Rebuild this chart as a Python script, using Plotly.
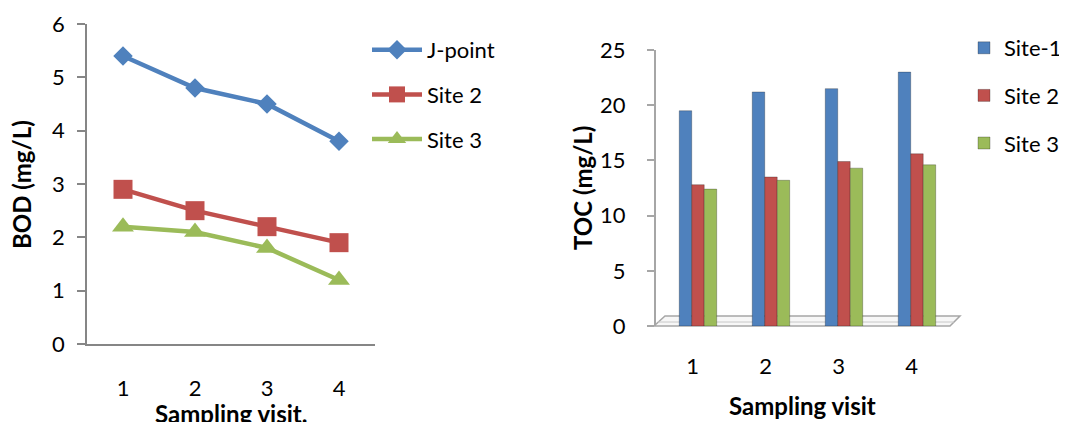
import plotly.graph_objects as go

# ---------------- data ----------------
visits = ["1", "2", "3", "4"]

bod_jpoint = [5.4, 4.8, 4.5, 3.8]
bod_site2 = [2.9, 2.5, 2.2, 1.9]
bod_site3 = [2.2, 2.1, 1.8, 1.2]

toc_site1 = [19.5, 21.2, 21.5, 23.0]
toc_site2 = [12.8, 13.5, 14.9, 15.6]
toc_site3 = [12.4, 13.2, 14.3, 14.6]

bod_ticks = [0, 1, 2, 3, 4, 5, 6]
toc_ticks = [0, 5, 10, 15, 20, 25]

# ---------------- style ----------------
# the page body has an 8px default margin, so the figure starts at (8, 8)
OFF = 8
W, H = 1067 - OFF, 422 - OFF
FONT = "Lato"
BLUE, RED, GREEN = "#4F81BD", "#C0504D", "#9BBB59"
AXIS = "#868686"


def px(x):
    return (x - OFF) / W


def py(y):
    return 1 - (y - OFF) / H


fig = go.Figure()

# ---- left: BOD line chart ----
for name, vals, col, sym, size in [
    ("J-point", bod_jpoint, BLUE, "diamond", 15),
    ("Site 2", bod_site2, RED, "square", 19),
    ("Site 3", bod_site3, GREEN, "triangle-up", 19),
]:
    fig.add_trace(go.Scatter(
        x=visits, y=vals, name=name, mode="lines+markers",
        line=dict(color=col, width=4.5),
        marker=dict(symbol=sym, size=size, color=col),
        xaxis="x", yaxis="y", legend="legend", legendgroup=name,
    ))

# ---- right: TOC column chart ----
BAR_W = 0.171
for i, (name, vals, col) in enumerate([
    ("Site-1", toc_site1, BLUE),
    ("Site 2", toc_site2, RED),
    ("Site 3", toc_site3, GREEN),
]):
    fig.add_trace(go.Bar(
        x=visits, y=vals, name=name,
        width=BAR_W, offset=-1.5 * BAR_W + 0.075 + i * BAR_W,
        marker=dict(color=col, line=dict(color="rgba(0,0,0,0.25)", width=1)),
        xaxis="x2", yaxis="y2", legend="legend2", legendgroup="b" + name,
    ))

tickfont = dict(family=FONT, size=22, color="black")

fig.update_layout(
    template="none",
    width=W, height=H, autosize=False,
    margin=dict(l=0, r=0, t=0, b=0, pad=0),
    paper_bgcolor="white", plot_bgcolor="rgba(0,0,0,0)",
    font=dict(family=FONT, size=22, color="black"),
    barmode="overlay",
    xaxis=dict(
        domain=[px(87), px(375)], range=[-0.5, 3.5], type="category",
        showgrid=False, zeroline=False, showline=True, linecolor=AXIS, linewidth=1.5,
        ticks="", tickfont=tickfont, ticklabelstandoff=24, anchor="y", automargin=False,
    ),
    yaxis=dict(
        domain=[py(344), py(24)], range=[0, 6], tickvals=bod_ticks,
        showgrid=False, zeroline=False, showline=True, linecolor=AXIS, linewidth=1.5,
        ticks="outside", ticklen=8, tickcolor=AXIS, tickwidth=1.5,
        tickfont=tickfont, ticklabelstandoff=8, anchor="x", automargin=False,
    ),
    xaxis2=dict(
        domain=[px(656), px(948)], range=[-0.5, 3.5], type="category",
        showgrid=False, zeroline=False, showline=False,
        ticks="", tickfont=tickfont, ticklabelstandoff=25, anchor="y2", automargin=False,
    ),
    yaxis2=dict(
        domain=[py(326), py(50)], range=[0, 25], tickvals=toc_ticks,
        showgrid=False, zeroline=False, showline=True, linecolor="#a6a6a6", linewidth=2,
        ticks="outside", ticklen=7, tickcolor="#a6a6a6", tickwidth=1.5,
        tickfont=tickfont, ticklabelstandoff=17, anchor="x2", automargin=False,
    ),
    legend=dict(
        x=px(367), y=py(29), xanchor="left", yanchor="top",
        bgcolor="rgba(0,0,0,0)", font=dict(family=FONT, size=22),
        itemwidth=50, tracegroupgap=13, traceorder="grouped",
    ),
    legend2=dict(
        x=1, y=py(27), xanchor="right", yanchor="top",
        bgcolor="rgba(0,0,0,0)", font=dict(family=FONT, size=22),
        itemwidth=30, tracegroupgap=16, traceorder="grouped",
    ),
    showlegend=True,
)

# 3D floor of the column chart
floor = (f"M {px(654)},{py(326)} L {px(950)},{py(326)} L {px(960)},{py(316)} "
         f"L {px(665)},{py(316)} Z")
fig.add_shape(type="path", path=floor, xref="paper", yref="paper",
              line=dict(color="#a6a6a6", width=1.5), fillcolor="#f7f7f7", layer="below")
fig.add_shape(type="line", xref="paper", yref="paper",
              x0=px(658), y0=py(322), x1=px(954), y1=py(322),
              line=dict(color="#c8c8c8", width=1), layer="below")

title_font = dict(family=FONT, size=24, color="black")
for txt, x, y, ang in [
    ("<b>BOD (mg/L)</b>", 21, 185, -90),
    ("<b>Sampling visit.</b>", 231, 413, 0),
    ("<b>TOC (mg/L)</b>", 583, 188, -90),
    ("<b>Sampling visit</b>", 802, 405, 0),
]:
    fig.add_annotation(text=txt, x=px(x), y=py(y), xref="paper", yref="paper",
                       xanchor="center", yanchor="middle", textangle=ang,
                       showarrow=False, font=title_font)

fig.write_html("out.html")
